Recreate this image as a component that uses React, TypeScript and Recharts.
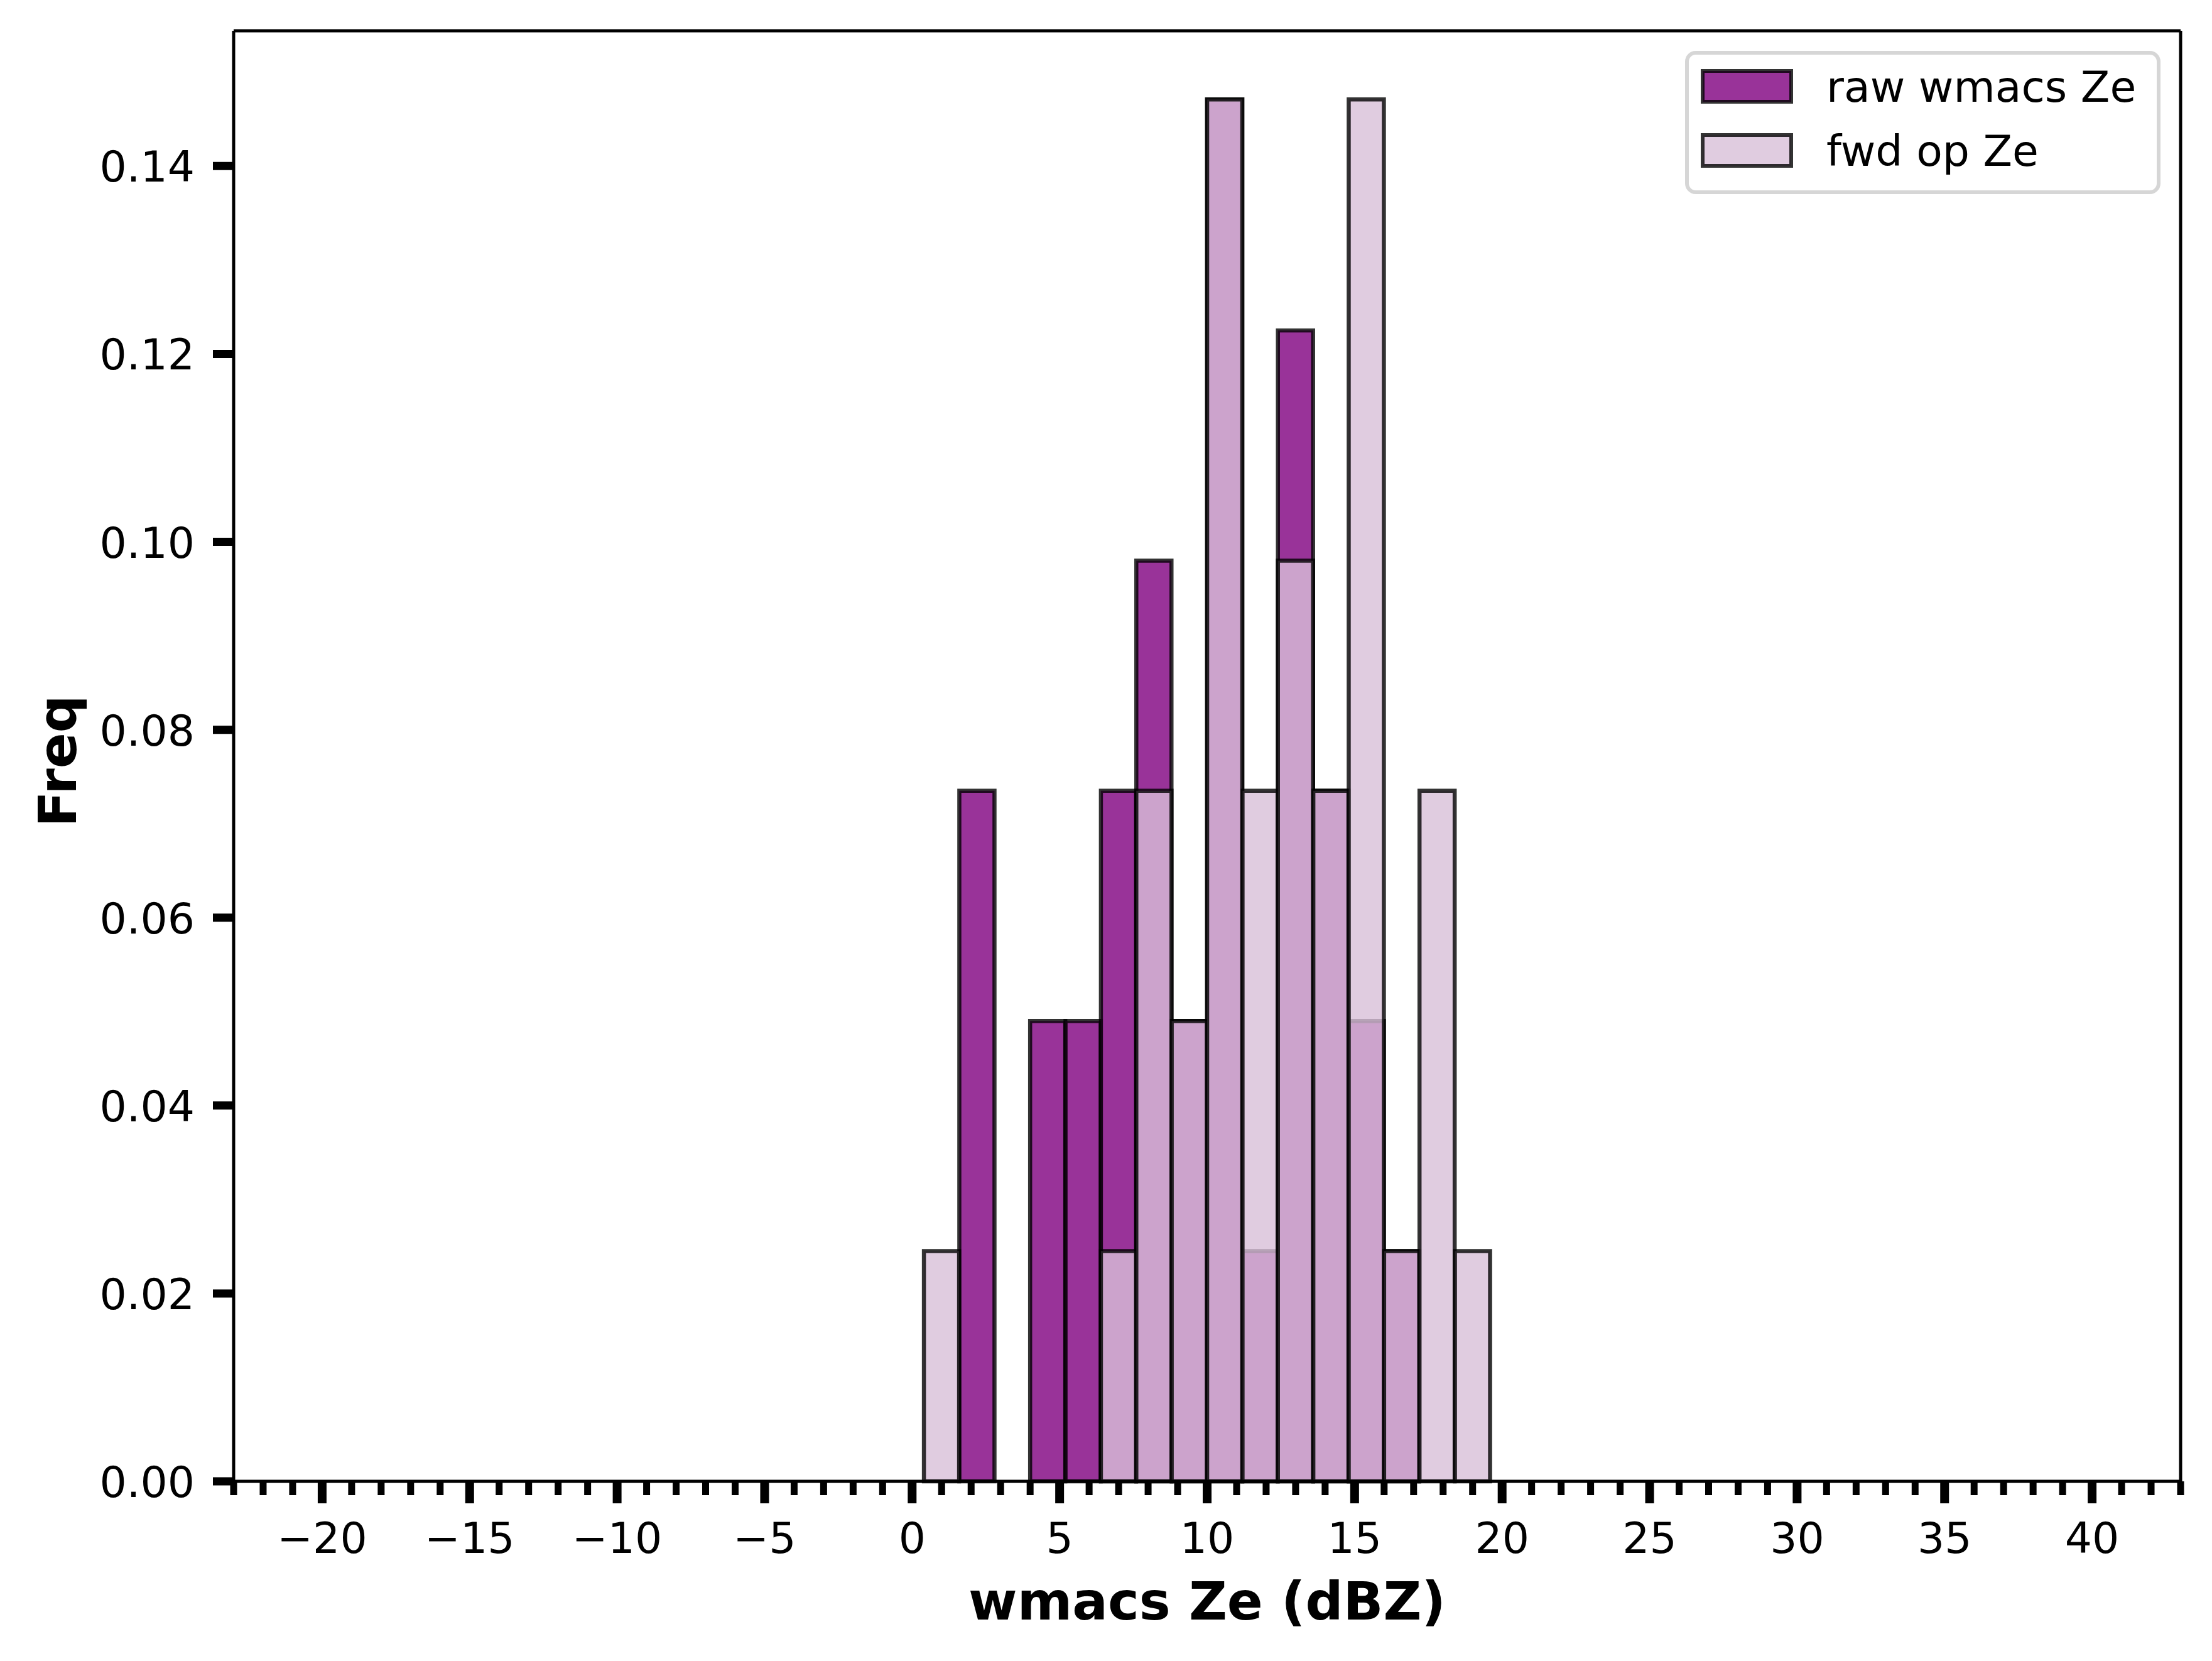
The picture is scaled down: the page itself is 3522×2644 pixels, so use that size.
import React from "react";
import {
  ComposedChart,
  Bar,
  XAxis,
  YAxis,
  ReferenceLine,
  Legend,
  Label,
} from "recharts";

// histogram bins (centres, width 1.2 dBZ) and densities
const binCenters = [1.0, 2.2, 3.4, 4.6, 5.8, 7.0, 8.2, 9.4, 10.6, 11.8, 13.0, 14.2, 15.4, 16.6, 17.8, 19.0];
const rawFreq = [0, 0.0735, 0, 0.049, 0.049, 0.0735, 0.098, 0.049, 0.1471, 0.0245, 0.1225, 0.0735, 0.049, 0.0245, 0, 0];
const fwdFreq = [0.0245, 0, 0, 0, 0, 0.0245, 0.0735, 0.049, 0.1471, 0.0735, 0.098, 0.0735, 0.1471, 0.0245, 0.0735, 0.0245];

const xMajorTicks = [-20, -15, -10, -5, 0, 5, 10, 15, 20, 25, 30, 35, 40];
const xAllTicks = Array.from({ length: 67 }, (_, i) => i - 23);
const yTicks = [0, 0.02, 0.04, 0.06, 0.08, 0.1, 0.12, 0.14];
const yMax = 0.1544;

const seriesNames = ["raw wmacs Ze", "fwd op Ze"];

const data = binCenters.map((c, i) => ({ bin: c, raw: rawFreq[i], fwd: fwdFreq[i] }));

const FONT = "DejaVu Sans";
const RAW_FILL = "#800080";
const FWD_FILL = "#d8bfd8";

function fmtX(v: number) {
  return v < 0 ? "\u2212" + Math.abs(v) : String(v);
}

function XTick(props: any) {
  const { x, y, payload } = props;
  const v = payload.value;
  const major = xMajorTicks.includes(v);
  return (
    <g>
      <line
        x1={x}
        x2={x}
        y1={y}
        y2={y + (major ? 35 : 22)}
        stroke="#000"
        strokeWidth={major ? 14 : 11}
      />
      {major && (
        <text x={x} y={y + 114} textAnchor="middle" fontSize={68} fontFamily={FONT} fill="#000">
          {fmtX(v)}
        </text>
      )}
    </g>
  );
}

function YTick(props: any) {
  const { x, y, payload } = props;
  return (
    <g>
      <line x1={x - 33} x2={x} y1={y} y2={y} stroke="#000" strokeWidth={13} />
      <text x={x - 62} y={y + 25} textAnchor="end" fontSize={68} fontFamily={FONT} fill="#000">
        {payload.value.toFixed(2)}
      </text>
    </g>
  );
}

function renderLegend() {
  const fills = [RAW_FILL, FWD_FILL];
  return (
    <svg width={763} height={236} style={{ display: "block" }}>
      <rect
        x={6}
        y={7}
        width={751}
        height={222}
        rx={14}
        fill="#fff"
        fillOpacity={0.8}
        stroke="#ccc"
        strokeOpacity={0.8}
        strokeWidth={6}
      />
      {seriesNames.map((name, i) => (
        <g key={name}>
          <rect
            x={31}
            y={36 + i * 102}
            width={141}
            height={49}
            fill={fills[i]}
            fillOpacity={0.8}
            stroke="#000"
            strokeOpacity={0.8}
            strokeWidth={6}
          />
          <text x={228} y={85 + i * 102} fontSize={68} fontFamily={FONT} fill="#000">
            {name}
          </text>
        </g>
      ))}
    </svg>
  );
}

export default function App() {
  return (
    <div style={{ position: "absolute", left: 0, top: 0, width: 3522, height: 2644, background: "#fff" }}>
      <ComposedChart
        width={3522}
        height={2644}
        data={data}
        margin={{ top: 49, right: 50, bottom: 0, left: 0 }}
        barCategoryGap={0}
        barGap={0}
      >
        <Bar
          xAxisId="a"
          dataKey="raw"
          name={seriesNames[0]}
          fill={RAW_FILL}
          fillOpacity={0.8}
          stroke="#000"
          strokeOpacity={0.8}
          strokeWidth={6.5}
          isAnimationActive={false}
        />
        <Bar
          xAxisId="b"
          dataKey="fwd"
          name={seriesNames[1]}
          fill={FWD_FILL}
          fillOpacity={0.8}
          stroke="#000"
          strokeOpacity={0.8}
          strokeWidth={6.5}
          isAnimationActive={false}
        />
        <XAxis
          xAxisId="a"
          dataKey="bin"
          type="number"
          domain={[-23, 43]}
          ticks={xAllTicks}
          interval={0}
          tick={<XTick />}
          tickLine={false}
          tickSize={0}
          tickMargin={0}
          axisLine={{ stroke: "#000", strokeWidth: 5 }}
          height={286}
        >
          <Label
            content={(p: any) => {
              const vb = p.viewBox || { x: 372, y: 2358, width: 3100 };
              return (
                <text
                  x={vb.x + vb.width / 2}
                  y={vb.y + 220}
                  textAnchor="middle"
                  fontSize={84}
                  fontWeight="bold"
                  fontFamily={FONT}
                  fill="#000"
                >
                  wmacs Ze (dBZ)
                </text>
              );
            }}
          />
        </XAxis>
        <XAxis xAxisId="b" dataKey="bin" type="number" domain={[-23, 43]} hide />
        <YAxis
          type="number"
          domain={[0, yMax]}
          ticks={yTicks}
          interval={0}
          tick={<YTick />}
          tickLine={false}
          tickSize={0}
          tickMargin={0}
          axisLine={{ stroke: "#000", strokeWidth: 5 }}
          width={372}
        >
          <Label
            content={(p: any) => {
              const vb = p.viewBox || { x: 0, y: 49, height: 2309 };
              const cy = vb.y + vb.height / 2 + 8;
              return (
                <text
                  x={121}
                  y={cy}
                  transform={`rotate(-90 121 ${cy})`}
                  textAnchor="middle"
                  fontSize={84}
                  fontWeight="bold"
                  fontFamily={FONT}
                  fill="#000"
                >
                  Freq
                </text>
              );
            }}
          />
        </YAxis>
        <ReferenceLine xAxisId="a" x={43} stroke="#000" strokeWidth={5} ifOverflow="visible" />
        <ReferenceLine xAxisId="a" y={yMax} stroke="#000" strokeWidth={5} ifOverflow="visible" />
        <Legend
          layout="vertical"
          align="center"
          verticalAlign="middle"
          content={renderLegend}
          wrapperStyle={{ position: "absolute", left: 2680, top: 77, width: 763, height: 236 }}
        />
      </ComposedChart>
    </div>
  );
}
